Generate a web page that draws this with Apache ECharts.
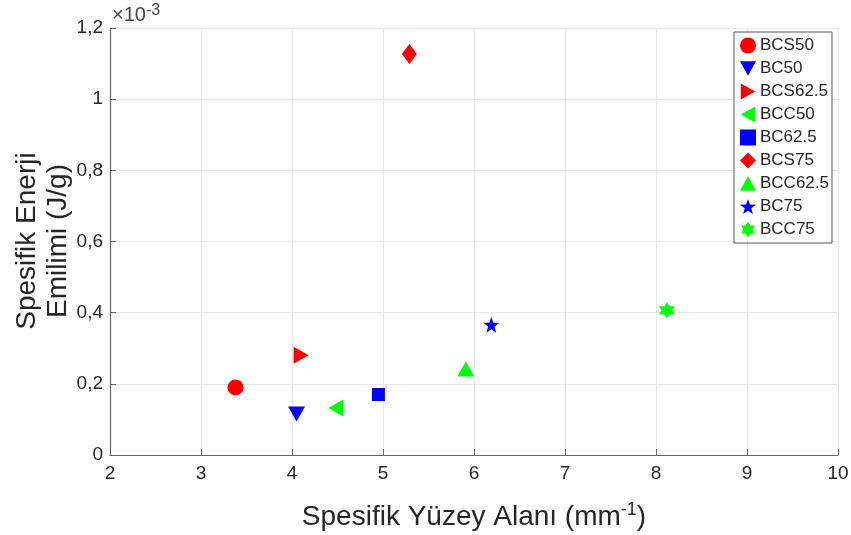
<!DOCTYPE html>
<html><head><meta charset="utf-8">
<script src="https://cdn.jsdelivr.net/npm/echarts@6/dist/echarts.min.js"></script>
<style>html,body{margin:0;padding:0;background:#fff}#c{width:851px;height:535px}</style>
</head><body><div id="c"></div>
<script>
const seriesNames = ['BCS50','BC50','BCS62.5','BCC50','BC62.5','BCS75','BCC62.5','BC75','BCC75'];
const xValues = [3.38, 4.05, 4.10, 4.48, 4.95, 5.29, 5.91, 6.19, 8.12];
const yValues = [0.19, 0.115, 0.28, 0.132, 0.17, 1.127, 0.242, 0.366, 0.407]; // ×10^-3 J/g
const colors = ['#ff0000','#0000ff','#ff0000','#00ff00','#0000ff','#ff0000','#00ff00','#0000ff','#00ff00'];
const yTicks = ['0','0,2','0,4','0,6','0,8','1','1,2'];
const yTitle = 'Spesifik Enerji\nEmilimi (J/g)';

const star = 'path://M5,0 L6.18,3.38 L9.76,3.45 L6.90,5.62 L7.94,9.05 L5,7 L2.06,9.05 L3.10,5.62 L0.24,3.45 L3.82,3.38 Z';
const hexa = 'path://M5,0 L9.33,7.5 L0.67,7.5 Z M5,10 L0.67,2.5 L9.33,2.5 Z';
const symbols = ['circle','path://M0,0 L10,0 L5,9 Z','path://M0,0 L9,5 L0,10 Z','path://M9,0 L0,5 L9,10 Z','rect','diamond','path://M5,0 L10,9 L0,9 Z',star,hexa];
const sizes = [16,[17,15],[15,17],[15,17],13,[15,20],[17,15],16,16];

const chart = echarts.init(document.getElementById('c'));
const txt = '#262626';
const ff = 'Liberation Sans, Arial, sans-serif';
chart.setOption({
  animation:false,
  grid:{left:110,right:13,top:28,bottom:80,containLabel:false,outerBoundsMode:'none'},
  xAxis:{type:'value',min:2,max:10,interval:1,
    name:'Spesifik Yüzey Alanı (mm{s|-1})',nameLocation:'middle',nameGap:46,
    nameTextStyle:{fontSize:28,color:txt,fontFamily:ff,rich:{s:{fontSize:18,color:txt,fontFamily:ff,verticalAlign:'top',padding:[0,0,14,0]}}},
    axisLine:{lineStyle:{color:'#666',width:1.2}},
    axisTick:{inside:true,length:6,lineStyle:{color:'#666'}},
    axisLabel:{fontSize:19,color:txt,margin:9,fontFamily:ff},
    splitLine:{show:true,lineStyle:{color:'#e8e8e8'}}},
  yAxis:{type:'value',min:0,max:1.2,interval:0.2,
    axisLine:{show:true,lineStyle:{color:'#666',width:1.2}},
    axisTick:{show:true,inside:true,length:6,lineStyle:{color:'#666'}},
    axisLabel:{fontSize:19,color:txt,margin:7,fontFamily:ff,
      formatter:(v)=>yTicks[Math.round(v/0.2)]},
    splitLine:{show:true,lineStyle:{color:'#e8e8e8'}}},
  legend:{orient:'vertical',left:734,top:32,itemGap:6,itemWidth:16,itemHeight:16,
    padding:[5,3,5,6],borderColor:'#555',borderWidth:1,backgroundColor:'#fff',
    textStyle:{fontSize:17,color:txt,padding:[0,0,0,-1],fontFamily:ff},
    data:seriesNames.map((n,i)=>({name:n,icon:symbols[i]}))},
  graphic:[
    {type:'text',left:112,top:3,style:{text:'×10{s|-3}',fontSize:20,fill:'#444',fontFamily:ff,
      rich:{s:{fontSize:16,fill:'#444',fontFamily:ff,verticalAlign:'top',padding:[0,0,9,0]}}}},
    {type:'text',x:43,y:241,rotation:Math.PI/2,style:{text:yTitle,fontSize:28,lineHeight:31,fill:txt,fontFamily:ff,
      align:'center',verticalAlign:'middle'}}
  ],
  series:seriesNames.map((n,i)=>({name:n,type:'scatter',symbol:symbols[i],symbolSize:sizes[i],
    itemStyle:{color:colors[i],opacity:1},data:[[xValues[i],yValues[i]]]}))
});
</script></body></html>
